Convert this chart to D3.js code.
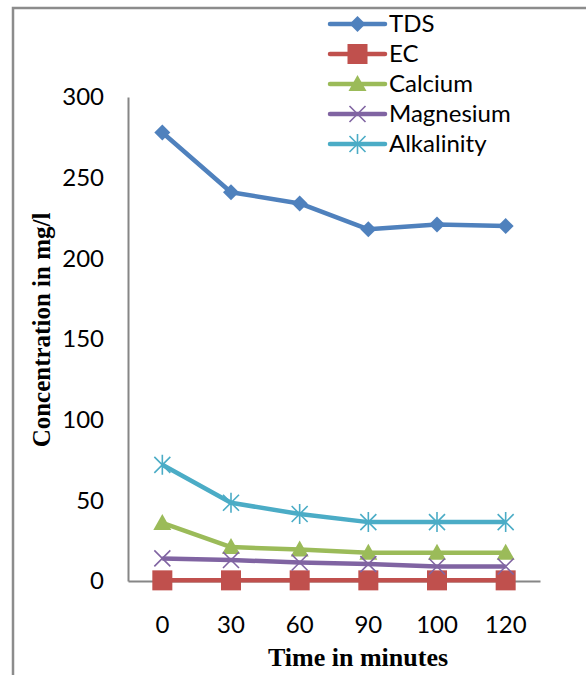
<!DOCTYPE html>
<html>
<head>
<meta charset="utf-8">
<script src="https://cdn.jsdelivr.net/npm/d3@7"></script>
<style>
  html, body { margin: 0; padding: 0; background: #fff; }
  svg { display: block; }
</style>
</head>
<body>
<svg id="chart" width="586" height="675"></svg>
<script>
// Sampling times (minutes) and measured concentrations (mg/l)
const times = ["0", "30", "60", "90", "100", "120"];
const tds = [278, 241, 234, 218, 221, 220];
const ec = [0.4, 0.4, 0.4, 0.4, 0.4, 0.4];
const calcium = [36, 21, 19.5, 17.5, 17.5, 17.5];
const magnesium = [14, 13, 11.5, 10.5, 9, 9];
const alkalinity = [72, 48.5, 41.5, 36.5, 36.5, 36.5];
const yTicks = [0, 50, 100, 150, 200, 250, 300];

const series = [
  { name: "TDS", values: tds, color: "#4F81BD", marker: "diamond" },
  { name: "EC", values: ec, color: "#C0504D", marker: "square" },
  { name: "Calcium", values: calcium, color: "#9BBB59", marker: "triangle" },
  { name: "Magnesium", values: magnesium, color: "#8064A2", marker: "x" },
  { name: "Alkalinity", values: alkalinity, color: "#4BACC6", marker: "star" }
];

const svg = d3.select("#chart");
const axisColor = "#868686";
const tickFont = "Lato, 'Open Sans', sans-serif";
const titleFont = "'Liberation Serif', 'Times New Roman', serif";

// Outer frame (extends past the right and bottom edges)
svg.append("rect")
  .attr("x", 13).attr("y", 8)
  .attr("width", 600).attr("height", 700)
  .attr("fill", "none").attr("stroke", "#8c8c8c").attr("stroke-width", 2.5);

const plot = { left: 128, right: 540, top: 97, bottom: 581 };

const x = d3.scaleBand().domain(times).range([plot.left, plot.right]);
const y = d3.scaleLinear().domain([0, 300]).range([plot.bottom, plot.top]);

// Y axis
const yAxis = svg.append("g")
  .attr("transform", `translate(${plot.left},0)`)
  .call(d3.axisLeft(y).tickValues(yTicks).tickSize(0).tickPadding(24));
yAxis.select(".domain").attr("stroke", axisColor).attr("stroke-width", 2);
yAxis.selectAll("text")
  .attr("font-family", tickFont).attr("font-size", 24).attr("fill", "#000");

// X axis
const xAxis = svg.append("g")
  .attr("transform", `translate(0,${plot.bottom})`)
  .call(d3.axisBottom(x).tickSize(0).tickPadding(35));
xAxis.select(".domain").attr("stroke", axisColor).attr("stroke-width", 2);
xAxis.selectAll("text")
  .attr("font-family", tickFont).attr("font-size", 24).attr("fill", "#000");

// Axis titles
svg.append("text")
  .attr("transform", "translate(50,330) rotate(-90)")
  .attr("text-anchor", "middle")
  .attr("font-family", titleFont)
  .attr("font-weight", "bold").attr("font-size", 25)
  .text("Concentration in mg/l");

svg.append("text")
  .attr("x", 358).attr("y", 666)
  .attr("text-anchor", "middle")
  .attr("font-family", titleFont)
  .attr("font-weight", "bold").attr("font-size", 26)
  .text("Time in minutes");

// Marker drawing helper
function drawMarker(g, type, color) {
  switch (type) {
    case "diamond":
      g.append("path").attr("d", "M0,-8L8,0L0,8L-8,0Z").attr("fill", color);
      break;
    case "square":
      g.append("rect").attr("x", -10).attr("y", -10).attr("width", 20).attr("height", 20).attr("fill", color);
      break;
    case "triangle":
      g.append("path").attr("d", "M0,-9L9,7L-9,7Z").attr("fill", color);
      break;
    case "x":
      g.append("path").attr("d", "M-8,-8L8,8M-8,8L8,-8")
        .attr("stroke", color).attr("stroke-width", 1.6).attr("fill", "none");
      break;
    case "star":
      g.append("path").attr("d", "M-8,-8L8,8M-8,8L8,-8M0,-10L0,10")
        .attr("stroke", color).attr("stroke-width", 1.6).attr("fill", "none");
      break;
  }
}

const cx = d => x(d) + x.bandwidth() / 2;
const line = d3.line().x((d, i) => cx(times[i])).y(d => y(d));

series.forEach(s => {
  const g = svg.append("g");
  g.append("path")
    .datum(s.values)
    .attr("d", line)
    .attr("fill", "none")
    .attr("stroke", s.color)
    .attr("stroke-width", 4.5)
    .attr("stroke-linejoin", "round");
  s.values.forEach((v, i) => {
    const m = g.append("g").attr("transform", `translate(${cx(times[i])},${y(v)})`);
    drawMarker(m, s.marker, s.color);
  });
});

// Legend
const legend = svg.append("g");
series.forEach((s, i) => {
  const row = legend.append("g").attr("transform", `translate(330,${24 + i * 30})`);
  row.append("line")
    .attr("x1", 0).attr("x2", 55).attr("y1", 0).attr("y2", 0)
    .attr("stroke", s.color).attr("stroke-width", 4.5).attr("stroke-linecap", "round");
  const m = row.append("g").attr("transform", "translate(27.5,0)");
  drawMarker(m, s.marker, s.color);
  row.append("text")
    .attr("x", 59).attr("y", 0).attr("dy", "0.35em")
    .attr("font-family", tickFont).attr("font-size", 24)
    .text(s.name);
});
</script>
</body>
</html>
